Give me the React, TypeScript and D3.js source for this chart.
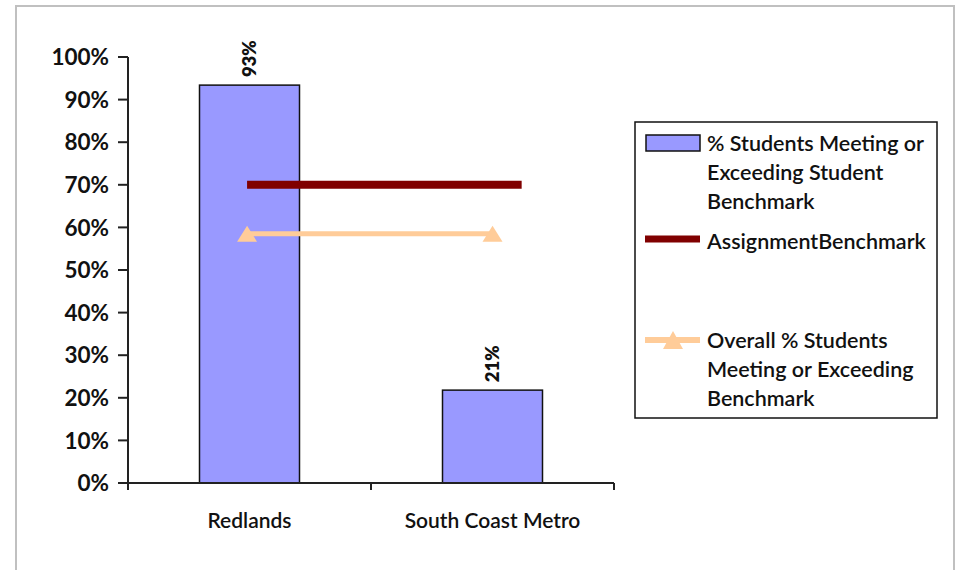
import React from "react";
import * as d3 from "d3";

const categories = ["Redlands", "South Coast Metro"];
const studentValues = [0.934, 0.218];
const studentLabels = ["93%", "21%"];
const benchmarkValues = [0.7, 0.7];
const benchmarkPositions = [-0.01, 1.12];
const overallValues = [0.585, 0.585];
const overallPositions = [-0.01, 1.0];
const yTicks = [0, 0.1, 0.2, 0.3, 0.4, 0.5, 0.6, 0.7, 0.8, 0.9, 1.0];
const legendStudent = ["% Students Meeting or", "Exceeding Student", "Benchmark"];
const legendBenchmark = ["AssignmentBenchmark"];
const legendOverall = ["Overall % Students", "Meeting or Exceeding", "Benchmark"];

const W = 961;
const H = 570;
const FONT = "Lato, 'Open Sans', sans-serif";

export default function App() {
  const x0 = 128;
  const x1 = 614;
  const yTop = 57;
  const yBottom = 483;

  const x = d3.scaleBand().domain(categories).range([x0, x1]).paddingInner(0).paddingOuter(0);
  const y = d3.scaleLinear().domain([0, 1]).range([yBottom, yTop]);
  const step = x.step();
  const center = (i: number) => x0 + step * (i + 0.5);
  const barW = 100;

  const pct = d3.format(".0%");

  const benchLine = d3
    .line<number>()
    .x((_, i) => center(benchmarkPositions[i]))
    .y((d) => y(d));
  const overallLine = d3
    .line<number>()
    .x((_, i) => center(overallPositions[i]))
    .y((d) => y(d));

  const tri = (cx: number, cy: number, w: number, h: number) =>
    `M${cx},${cy - h / 2}L${cx + w / 2},${cy + h / 2}L${cx - w / 2},${cy + h / 2}Z`;

  const legendX = 635;
  const legendY = 122;
  const textX = 707;
  const LF = 21.5;

  return (
    <svg
      width={W}
      height={H}
      style={{ position: "fixed", left: 0, top: 0, background: "#fff" }}
      fontFamily={FONT}
    >
      <rect x={16} y={6} width={938} height={H + 20} fill="#fff" stroke="#c0c0c0" strokeWidth={2} />

      {/* bars */}
      {studentValues.map((v, i) => (
        <rect
          key={i}
          x={center(i) - barW / 2}
          y={y(v)}
          width={barW}
          height={y(0) - y(v)}
          fill="#9999ff"
          stroke="#111"
          strokeWidth={1.5}
        />
      ))}

      {/* data labels */}
      {studentValues.map((v, i) => (
        <text
          key={i}
          transform={`translate(${center(i)},${y(v) - 8}) rotate(-90)`}
          dy="0.35em"
          fontSize={18.5}
          fontWeight={800}
          fill="#111"
        >
          {studentLabels[i]}
        </text>
      ))}

      {/* lines */}
      <path d={benchLine(benchmarkValues) || ""} stroke="#800000" strokeWidth={8} fill="none" />
      <path d={overallLine(overallValues) || ""} stroke="#ffcc99" strokeWidth={5} fill="none" />
      {overallValues.map((v, i) => (
        <path key={i} d={tri(center(overallPositions[i]), y(v), 20, 16)} fill="#ffcc99" />
      ))}

      {/* y axis */}
      <line x1={x0} x2={x0} y1={yTop} y2={yBottom} stroke="#222" strokeWidth={2} />
      {yTicks.map((t) => (
        <g key={t}>
          <line x1={x0 - 10} x2={x0} y1={y(t)} y2={y(t)} stroke="#222" strokeWidth={2} />
          <text x={x0 - 19} y={y(t)} dy="0.36em" textAnchor="end" fontSize={22.5} fontWeight={700} fill="#111">
            {pct(t)}
          </text>
        </g>
      ))}

      {/* x axis */}
      <line x1={x0} x2={x1} y1={yBottom} y2={yBottom} stroke="#222" strokeWidth={2} />
      {[0, 1, 2].map((k) => (
        <line key={k} x1={x0 + step * k} x2={x0 + step * k} y1={yBottom} y2={yBottom + 7} stroke="#222" strokeWidth={2} />
      ))}
      {categories.map((c, i) => (
        <text key={c} x={center(i)} y={521} dy="0.35em" textAnchor="middle" fontSize={21} fontWeight={600} fill="#111">
          {c}
        </text>
      ))}

      {/* legend */}
      <rect x={legendX} y={legendY} width={302} height={296} fill="#fff" stroke="#111" strokeWidth={1.5} />
      <rect x={646} y={135} width={54} height={16} fill="#9999ff" stroke="#111" strokeWidth={1.5} />
      {legendStudent.map((t, i) => (
        <text key={t} x={textX} y={143 + i * 29} dy="0.35em" fontSize={LF} fontWeight={600} fill="#111">
          {t}
        </text>
      ))}
      <line x1={645} x2={700} y1={239} y2={239} stroke="#800000" strokeWidth={7} />
      {legendBenchmark.map((t, i) => (
        <text key={t} x={textX} y={241 + i * 29} dy="0.35em" fontSize={LF} fontWeight={600} fill="#111">
          {t}
        </text>
      ))}
      <line x1={645} x2={700} y1={340} y2={340} stroke="#ffcc99" strokeWidth={6} />
      <path d={tri(673, 340, 20, 18)} fill="#ffcc99" />
      {legendOverall.map((t, i) => (
        <text key={t + i} x={textX} y={340 + i * 29} dy="0.35em" fontSize={LF} fontWeight={600} fill="#111">
          {t}
        </text>
      ))}
    </svg>
  );
}
